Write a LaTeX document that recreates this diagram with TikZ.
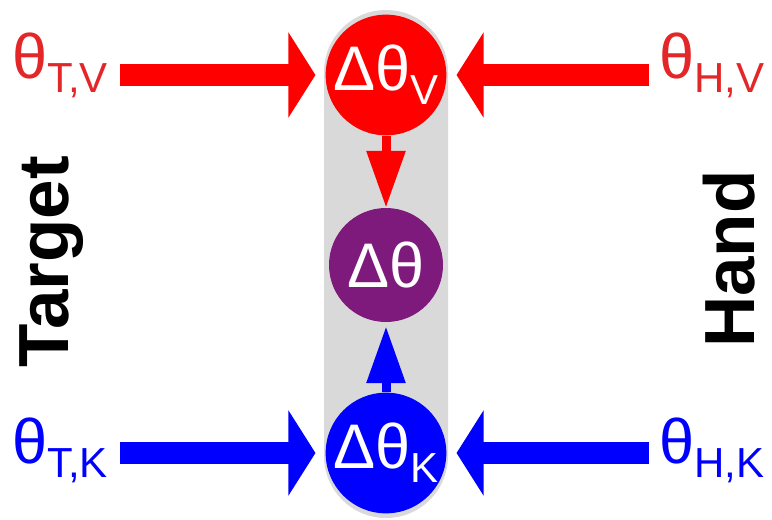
\documentclass[tikz,border=0pt]{standalone}
\usepackage{fontspec}
\setmainfont{Liberation Sans}
\usetikzlibrary{arrows.meta}

\definecolor{labelred}{RGB}{227,38,40}
\definecolor{diffpurple}{RGB}{126,26,124}
\definecolor{pillgray}{RGB}{217,217,217}

% symbol with lowered subscript
\newcommand{\angsym}[2]{#1\raisebox{-14pt}{\fontsize{42}{42}\selectfont #2}}

\begin{document}
\begin{tikzpicture}[x=1pt, y=-1pt,
  every node/.style={inner sep=0pt},
  biglabel/.style={anchor=base west, font=\fontsize{63}{63}\selectfont},
  diffnode/.style={circle, minimum size=114pt, text=white, font=\fontsize{63}{63}\selectfont},
  inflow/.style={line width=22pt, -{Triangle[width=84pt, length=27pt]}},
  merge/.style={line width=9pt, -{Triangle[width=37pt, length=57pt]}},
  sidelabel/.style={rotate=90, anchor=base, font=\fontsize{71}{71}\selectfont\bfseries}]

\useasboundingbox (0,0) rectangle (772,520);

% background pill
\fill[pillgray, rounded corners=62pt] (324,10) rectangle (448,518);

% difference nodes
\node[diffnode, fill=red] (dv) at (386,75) {\raisebox{-4pt}{\angsym{Δθ}{V}}};
\node[diffnode, fill=diffpurple] (d) at (386,265) {Δθ};
\node[diffnode, fill=blue] (dk) at (386,453) {\raisebox{-4pt}{\angsym{Δθ}{K}}};

% input labels
\node[biglabel, labelred] (tv) at (12,78) {\angsym{θ}{T,V}};
\node[biglabel, labelred] (hv) at (659,78) {\angsym{θ}{H,V}};
\node[biglabel, blue] (tk) at (12,463) {\angsym{θ}{T,K}};
\node[biglabel, blue] (hk) at (659,463) {\angsym{θ}{H,K}};

% side labels
\node[sidelabel] (target) at (68,262) {Target};
\node[sidelabel] (hand) at (754,259) {Hand};

% inputs to differences
\begin{scope}[shorten >=10pt]
\draw[inflow, red, shorten <=12pt] (tv.east |- dv) -- (dv.west) ;
\draw[inflow, red, shorten <=10pt] (hv.west |- dv) -- (dv.east) ;
\draw[inflow, blue, shorten <=12pt] (tk.east |- dk) -- (dk.west) ;
\draw[inflow, blue, shorten <=10pt] (hk.west |- dk) -- (dk.east) ;
\end{scope}

% differences to combined
\draw[merge, red] (dv.south) -- (d.north) ;
\draw[merge, blue] (dk.north) -- ([yshift=-4pt]d.south) ;

\end{tikzpicture}
\end{document}
